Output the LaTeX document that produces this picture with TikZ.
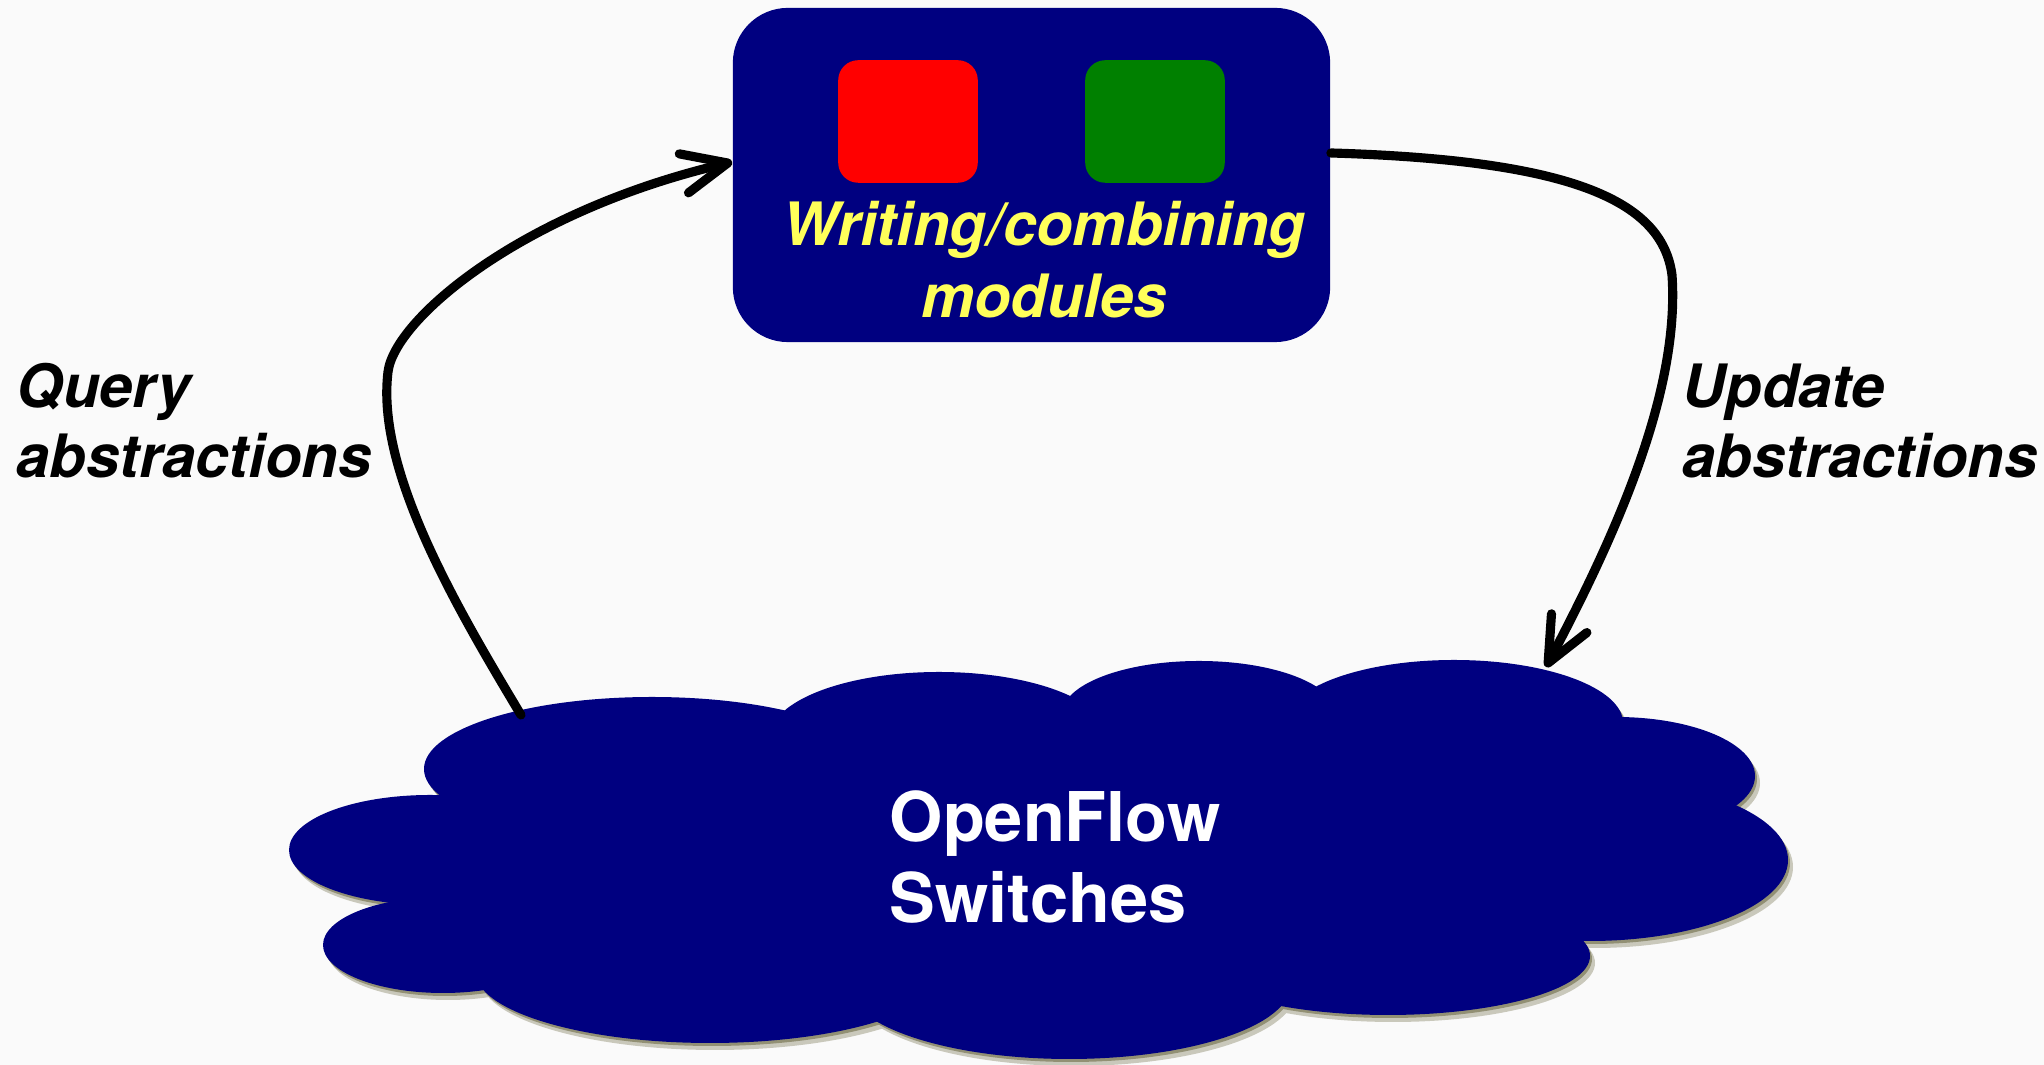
\documentclass[tikz,border=0pt]{standalone}
\usepackage{fontspec}
\setmainfont{TeX Gyre Heros}
\usetikzlibrary{arrows.meta}

\definecolor{deepnavy}{RGB}{0,0,128}
\definecolor{modred}{RGB}{255,0,0}
\definecolor{modgreen}{RGB}{0,128,0}
\definecolor{labelyellow}{RGB}{255,255,90}
\definecolor{paper}{RGB}{250,250,250}
\definecolor{cloudshadow}{RGB}{110,108,70}

% the overlapping lobes that make up the switch cloud
\newcommand\cloudlobes[1]{%
  \fill[#1] (652,769) ellipse [x radius=228, y radius=72];
  \fill[#1] (430,850) ellipse [x radius=141, y radius=55];
  \fill[#1] (443,945) ellipse [x radius=120, y radius=48];
  \fill[#1] (710,971) ellipse [x radius=235, y radius=72];
  \fill[#1] (1069,984) ellipse [x radius=222, y radius=75];
  \fill[#1] (1388,956) ellipse [x radius=202, y radius=59];
  \fill[#1] (1590,860) ellipse [x radius=198, y radius=81];
  \fill[#1] (1616,776) ellipse [x radius=139, y radius=59];
  \fill[#1] (1454,723) ellipse [x radius=169, y radius=63];
  \fill[#1] (1199,714) ellipse [x radius=137, y radius=53];
  \fill[#1] (939,737) ellipse [x radius=169, y radius=65];
  \fill[#1] (600,900) ellipse [x radius=200, y radius=60];
  \fill[#1] (1043,847) ellipse [x radius=570, y radius=140];
}

\begin{document}
\begin{tikzpicture}[x=0.01cm, y=-0.01cm,
  flow/.style={line width=2.6pt, line cap=round, line join=round,
    -{Straight Barb[angle=48:14pt, round]}},
  sidelabel/.style={font=\fontsize{17}{20}\selectfont\bfseries\itshape,
    align=left, anchor=base west, inner sep=0pt},
  modbox/.style={fill=#1, rounded corners=0.2cm, minimum width=1.395cm,
    minimum height=1.225cm, inner sep=0pt}]

% page
\fill[paper] (0,0) rectangle (2044,1065);
\useasboundingbox (0,0) rectangle (2044,1065);

% controller box with two modules
\node[fill=deepnavy, rounded corners=0.55cm, minimum width=5.97cm,
  minimum height=3.34cm, inner sep=0pt] (ctrl) at (1031.5,175) {};
\node[modbox=modred] (redmod) at (908,121.5) {};
\node[modbox=modgreen] (greenmod) at (1155,121.5) {};
\node[font=\fontsize{17}{20.5}\selectfont\bfseries\itshape, text=labelyellow,
  align=center, anchor=base, inner sep=0pt] (modlabel) at (1044,318)
  {Writing/combining\\modules};

% cloud of switches: soft shadow, then the lobes
\begin{scope}[transparency group, opacity=0.35, shift={(5,7)}]
  \cloudlobes{cloudshadow}
\end{scope}
\begin{scope}[transparency group, opacity=0.6, shift={(2,3)}]
  \cloudlobes{cloudshadow}
\end{scope}
\cloudlobes{deepnavy}
\node[font=\fontsize{19.5}{23.3}\selectfont\bfseries, text=white,
  align=left, anchor=base west, inner sep=0pt] (switches) at (889,923)
  {OpenFlow\\Switches};

% connector end points
\coordinate (qout) at (521,715);
\coordinate (qbend) at (388,372);
\coordinate (qin) at ([yshift=0.13cm]ctrl.west);
\coordinate (uout) at ([yshift=0.22cm]ctrl.east);
\coordinate (ubend) at (1672,275);
\coordinate (uin) at (1546,667);

% query: switches -> controller
\draw[flow] (qout) .. controls (455,605) and (376,470) .. (qbend)
  .. controls (394,320) and (520,212) .. (qin);
% update: controller -> switches
\draw[flow] (uout) .. controls (1565,160) and (1662,198) .. (ubend)
  .. controls (1680,390) and (1618,531) .. (uin);

% side labels
\node[sidelabel] (querylabel) at (16,478) {Query\\abstractions};
\node[sidelabel] (updatelabel) at (1682,478) {Update\\abstractions};
\end{tikzpicture}
\end{document}
